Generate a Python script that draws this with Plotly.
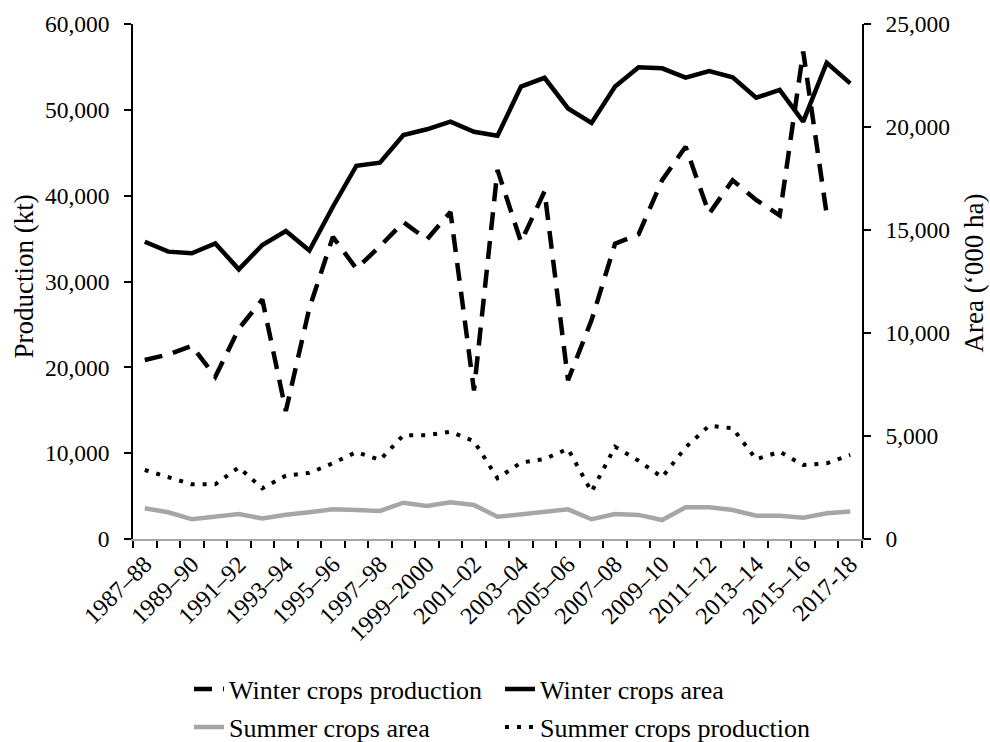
import plotly.graph_objects as go

years = ["1987–88", "1988–89", "1989–90", "1990–91", "1991–92", "1992–93", "1993–94",
         "1994–95", "1995–96", "1996–97", "1997–98", "1998–99", "1999–2000", "2000–01",
         "2001–02", "2002–03", "2003–04", "2004–05", "2005–06", "2006–07", "2007–08",
         "2008–09", "2009–10", "2010–11", "2011–12", "2012–13", "2013–14", "2014–15",
         "2015–16", "2016–17", "2017-18"]

winter_production = [20850, 21500, 22500, 18900, 24500, 27900, 14900, 26900, 35200, 31500,
                     34100, 36900, 34900, 38100, 17300, 43000, 34600, 40500, 18500, 25500,
                     34400, 35500, 41800, 45700, 37900, 41800, 39500, 37700, 56800, 37800, None]

winter_area = [14430, 13950, 13870, 14350, 13090, 14270, 14950, 14000, 16130, 18120,
               18270, 19610, 19890, 20260, 19770, 19580, 21960, 22390, 20900, 20200,
               21960, 22900, 22850, 22400, 22720, 22410, 21420, 21800, 20260, 23120, 22120]

summer_production = [8040, 7260, 6370, 6370, 8350, 5900, 7380, 7700, 8820, 10140,
                     9200, 12100, 12100, 12500, 11400, 7070, 8900, 9320, 10500, 5500,
                     10750, 9120, 7190, 10680, 13200, 12900, 9280, 10170, 8620, 8820, 9790]

summer_area = [1490, 1300, 960, 1080, 1210, 1000, 1180, 1300, 1440, 1410,
               1360, 1760, 1600, 1780, 1650, 1080, 1210, 1300, 1440, 960,
               1210, 1170, 920, 1540, 1540, 1410, 1130, 1130, 1030, 1250, 1340]

x = list(range(len(years)))
label_idx = x[::2]
label_text = [years[i] for i in label_idx]

FONT = "Liberation Serif, Times New Roman, serif"

fig = go.Figure()
fig.add_trace(go.Scatter(x=x, y=winter_production, name="Winter crops production",
                         mode="lines", line=dict(color="black", width=4.5, dash="18px,11px"),
                         yaxis="y", legend="legend"))
fig.add_trace(go.Scatter(x=x, y=winter_area, name="Winter crops area",
                         mode="lines", line=dict(color="black", width=4.5),
                         yaxis="y2", legend="legend"))
fig.add_trace(go.Scatter(x=x, y=summer_area, name="Summer crops area",
                         mode="lines", line=dict(color="#a6a6a6", width=4.5),
                         yaxis="y2", legend="legend2"))
fig.add_trace(go.Scatter(x=x, y=summer_production, name="Summer crops production",
                         mode="lines", line=dict(color="black", width=4, dash="4px,8px"),
                         yaxis="y", legend="legend2"))

fig.update_layout(
    width=990, height=742,
    margin=dict(l=133, r=128, t=24, b=203),
    paper_bgcolor="white", plot_bgcolor="white",
    font=dict(family=FONT, size=23, color="black"),
    xaxis=dict(
        range=[-0.5, len(years) - 0.5],
        tickmode="array", tickvals=label_idx, ticktext=label_text,
        tickangle=-45, ticks="outside", ticklen=7, tickcolor="rgba(0,0,0,0)",
        showline=True, linecolor="#a6a6a6", linewidth=1.5,
        showgrid=False, zeroline=False, automargin=False,
        minor=dict(tickmode="array", tickvals=[i - 0.5 for i in range(len(years) + 1)],
                   ticks="outside", ticklen=7, tickcolor="black", tickwidth=1.5,
                   showgrid=False),
        tickfont=dict(size=24),
        ticklabelstandoff=-7,
    ),
    yaxis=dict(
        range=[0, 60000], dtick=10000, tickformat=",",
        showline=True, linecolor="black", linewidth=1.5,
        ticks="outside", ticklen=7, tickcolor="black", tickwidth=1.5,
        showgrid=False, zeroline=False, automargin=False,
        tickfont=dict(size=23.5), ticklabelstandoff=10,
    ),
    yaxis2=dict(
        range=[0, 25000], dtick=5000, tickformat=",",
        overlaying="y", side="right",
        showline=True, linecolor="black", linewidth=1.5,
        ticks="outside", ticklen=7, tickcolor="black", tickwidth=1.5,
        showgrid=False, zeroline=False, automargin=False,
        tickfont=dict(size=23.5), ticklabelstandoff=10,
    ),
    legend=dict(orientation="h", xref="container", yref="container",
                x=189 / 990, y=1 - 689 / 742, xanchor="left", yanchor="middle",
                entrywidth=266, entrywidthmode="pixels",
                font=dict(size=26), bgcolor="rgba(0,0,0,0)"),
    legend2=dict(orientation="h", xref="container", yref="container",
                 x=189 / 990, y=1 - 727 / 742, xanchor="left", yanchor="middle",
                 entrywidth=266, entrywidthmode="pixels",
                 font=dict(size=26), bgcolor="rgba(0,0,0,0)"),
    annotations=[
        dict(text="Production (kt)", xref="paper", yref="paper", x=0, y=0.5,
             xshift=-110, yshift=5, textangle=-90, showarrow=False,
             font=dict(size=27), xanchor="center", yanchor="middle"),
        dict(text="Area (‘000 ha)", xref="paper", yref="paper", x=1, y=0.5,
             xshift=111, yshift=8, textangle=-90, showarrow=False,
             font=dict(size=27), xanchor="center", yanchor="middle"),
    ],
)

fig.write_html("out.html", config={"displayModeBar": False},
               post_script="document.body.style.margin='0';document.body.style.overflow='hidden';")
